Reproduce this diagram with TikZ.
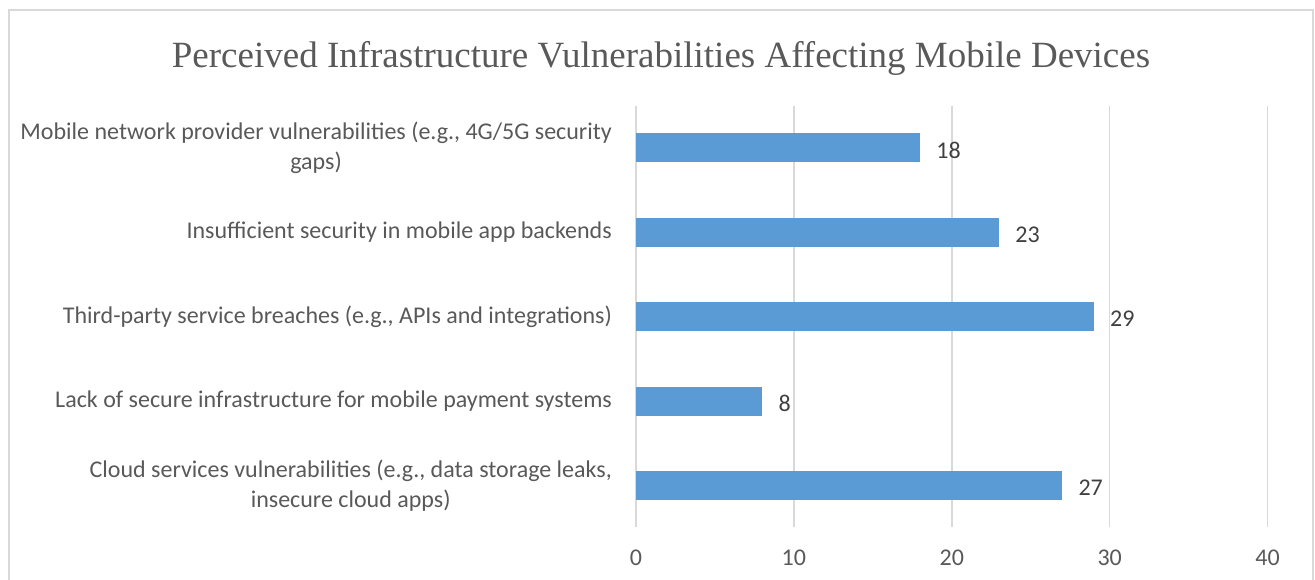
\documentclass[tikz,border=0pt]{standalone}
\usepackage{fontspec}
\setmainfont{Carlito}
\newfontfamily\titlefont{Liberation Serif}
\definecolor{txtgray}{HTML}{595959}
\definecolor{valgray}{HTML}{404040}
\definecolor{gridgray}{HTML}{D9D9D9}
\definecolor{barblue}{HTML}{5B9BD5}
\begin{document}
\begin{tikzpicture}[x=1pt,y=-1pt,
  gridline/.style={draw=gridgray,line width=1.5pt},
  frame/.style={draw=gridgray,line width=1.5pt},
  bar/.style={fill=barblue},
  catlabel/.style={anchor=east,align=center,inner sep=0pt,text=txtgray,font=\fontsize{24}{30}\selectfont},
  vallabel/.style={anchor=west,inner sep=0pt,text=valgray,font=\fontsize{24}{28}\selectfont},
  ticklabel/.style={anchor=center,inner sep=0pt,text=txtgray,font=\fontsize{24}{28}\selectfont},
  titlelabel/.style={anchor=center,inner sep=0pt,text=txtgray,font=\titlefont\fontsize{37}{44}\selectfont}]
\useasboundingbox (0,0) rectangle (1315,580);
% chart frame (bottom edge lies below the page)
\draw[frame] (9,580) -- (9,10) -- (1313,10) -- (1313,580);
% title
\node[titlelabel] (title) at (661,58) {Perceived Infrastructure Vulnerabilities Affecting Mobile Devices};
% vertical gridlines and axis values
\foreach \v [count=\i] in {0,10,20,30,40}{
  \draw[gridline] ({636+15.79*\v},106) -- ({636+15.79*\v},527);
  \node[ticklabel] (tick\i) at ({636+15.79*\v},558) {\v};
}
% bars with their values and category names
\foreach \val/\yc/\name [count=\i] in {
  18/148/{Mobile network provider vulnerabilities (e.g., 4G/5G security\\gaps)},
  23/232.4/{Insufficient security in mobile app backends},
  29/316.8/{Third-party service breaches (e.g., APIs and integrations)},
  8/401.3/{Lack of secure infrastructure for mobile payment systems},
  27/485.7/{Cloud services vulnerabilities (e.g., data storage leaks,\\insecure cloud apps)}}{
  \fill[bar] (636,{\yc-14.5}) rectangle ({636+15.79*\val},{\yc+14.5});
  \node[vallabel] (val\i) at ({636+15.79*\val+16},{\yc+2}) {\val};
  \node[catlabel] (cat\i) at (612,\yc) {\name};
}
\end{tikzpicture}
\end{document}
